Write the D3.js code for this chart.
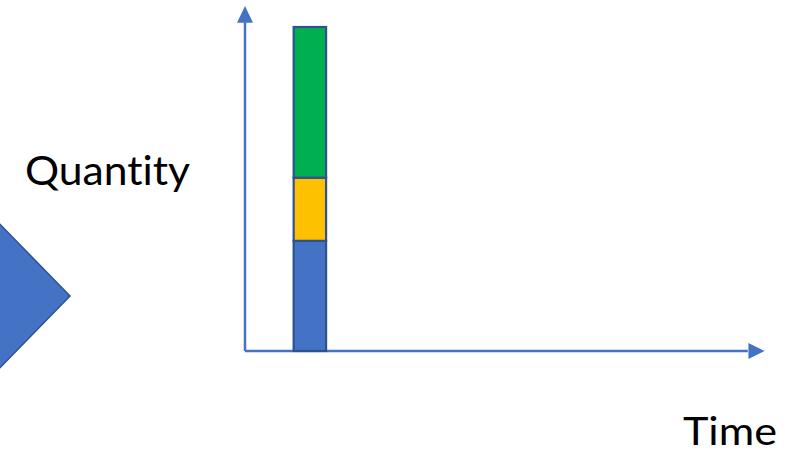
<!DOCTYPE html>
<html><head><meta charset="utf-8">
<script src="https://cdn.jsdelivr.net/npm/d3@7"></script>
<style>html,body{margin:0;padding:0;background:#fff;}svg{display:block;}text{font-variant-ligatures:none;font-feature-settings:"liga" 0,"clig" 0;}</style>
</head><body>
<script>
// Data
const categories = ["T1"];          // single time slot
const timePositions = [2];          // position of the bar on the time axis
const seriesNames = ["Base", "Middle", "Top"];
const seriesValues = [[34], [19.5], [46.5]];
const seriesColors = ["#4472C4", "#FFC000", "#00B050"];
const axisLabels = {x: "Time", y: "Quantity"};

const W = 785, H = 455;
const svg = d3.select("body").append("svg").attr("width", W).attr("height", H);

const x = d3.scaleLinear().domain([0, 16]).range([245, 764]);
const y = d3.scaleLinear().domain([0, 100]).range([351, 27]);

const axisColor = "#4472C4", edge = "#2F528F";

// decorative chevron on the left
svg.append("path")
  .attr("d", "M-10,214 L70,296 L-10,378 Z")
  .attr("fill", "#4472C4").attr("stroke", edge).attr("stroke-width", 1.5);

// stacked data
const rows = categories.map((c, i) => {
  const r = {cat: c, t: timePositions[i]};
  seriesNames.forEach((s, j) => r[s] = seriesValues[j][i]);
  return r;
});
const stack = d3.stack().keys(seriesNames)(rows);

// axes lines
svg.append("line").attr("x1", x(0)).attr("x2", x(15.5)).attr("y1", y(0)).attr("y2", y(0))
  .attr("stroke", axisColor).attr("stroke-width", 2.5);
svg.append("line").attr("x1", x(0)).attr("x2", x(0)).attr("y1", y(0)).attr("y2", y(101.5))
  .attr("stroke", axisColor).attr("stroke-width", 2.5);
// arrowheads
svg.append("path")
  .attr("d", `M${x(0)},${y(106.5)} L${x(0)-8},${y(101.3)} L${x(0)+8},${y(101.3)} Z`)
  .attr("fill", axisColor);
svg.append("path")
  .attr("d", `M${x(16.02)},${y(0)} L${x(15.52)},${y(0)-8} L${x(15.52)},${y(0)+8} Z`)
  .attr("fill", axisColor);

// bars
stack.forEach((layer, j) => {
  svg.append("g").selectAll("rect").data(layer).join("rect")
    .attr("x", d => x(d.data.t - 0.5))
    .attr("width", d => x(d.data.t + 0.5) - x(d.data.t - 0.5))
    .attr("y", d => y(d[1]))
    .attr("height", d => y(d[0]) - y(d[1]))
    .attr("fill", seriesColors[j])
    .attr("stroke", edge).attr("stroke-width", 2.2);
});

// labels
svg.append("text").attr("x", 25).attr("y", 185)
  .attr("font-family", "Lato, 'Open Sans', sans-serif").attr("font-size", 41)
  .attr("textLength", 165).attr("lengthAdjust", "spacingAndGlyphs")
  .attr("fill", "#000").text(axisLabels.y);
svg.append("text").attr("x", 683).attr("y", 445)
  .attr("font-family", "Lato, 'Open Sans', sans-serif").attr("font-size", 38)
  .attr("textLength", 94).attr("lengthAdjust", "spacingAndGlyphs")
  .attr("fill", "#000").text(axisLabels.x);
</script>
</body></html>
